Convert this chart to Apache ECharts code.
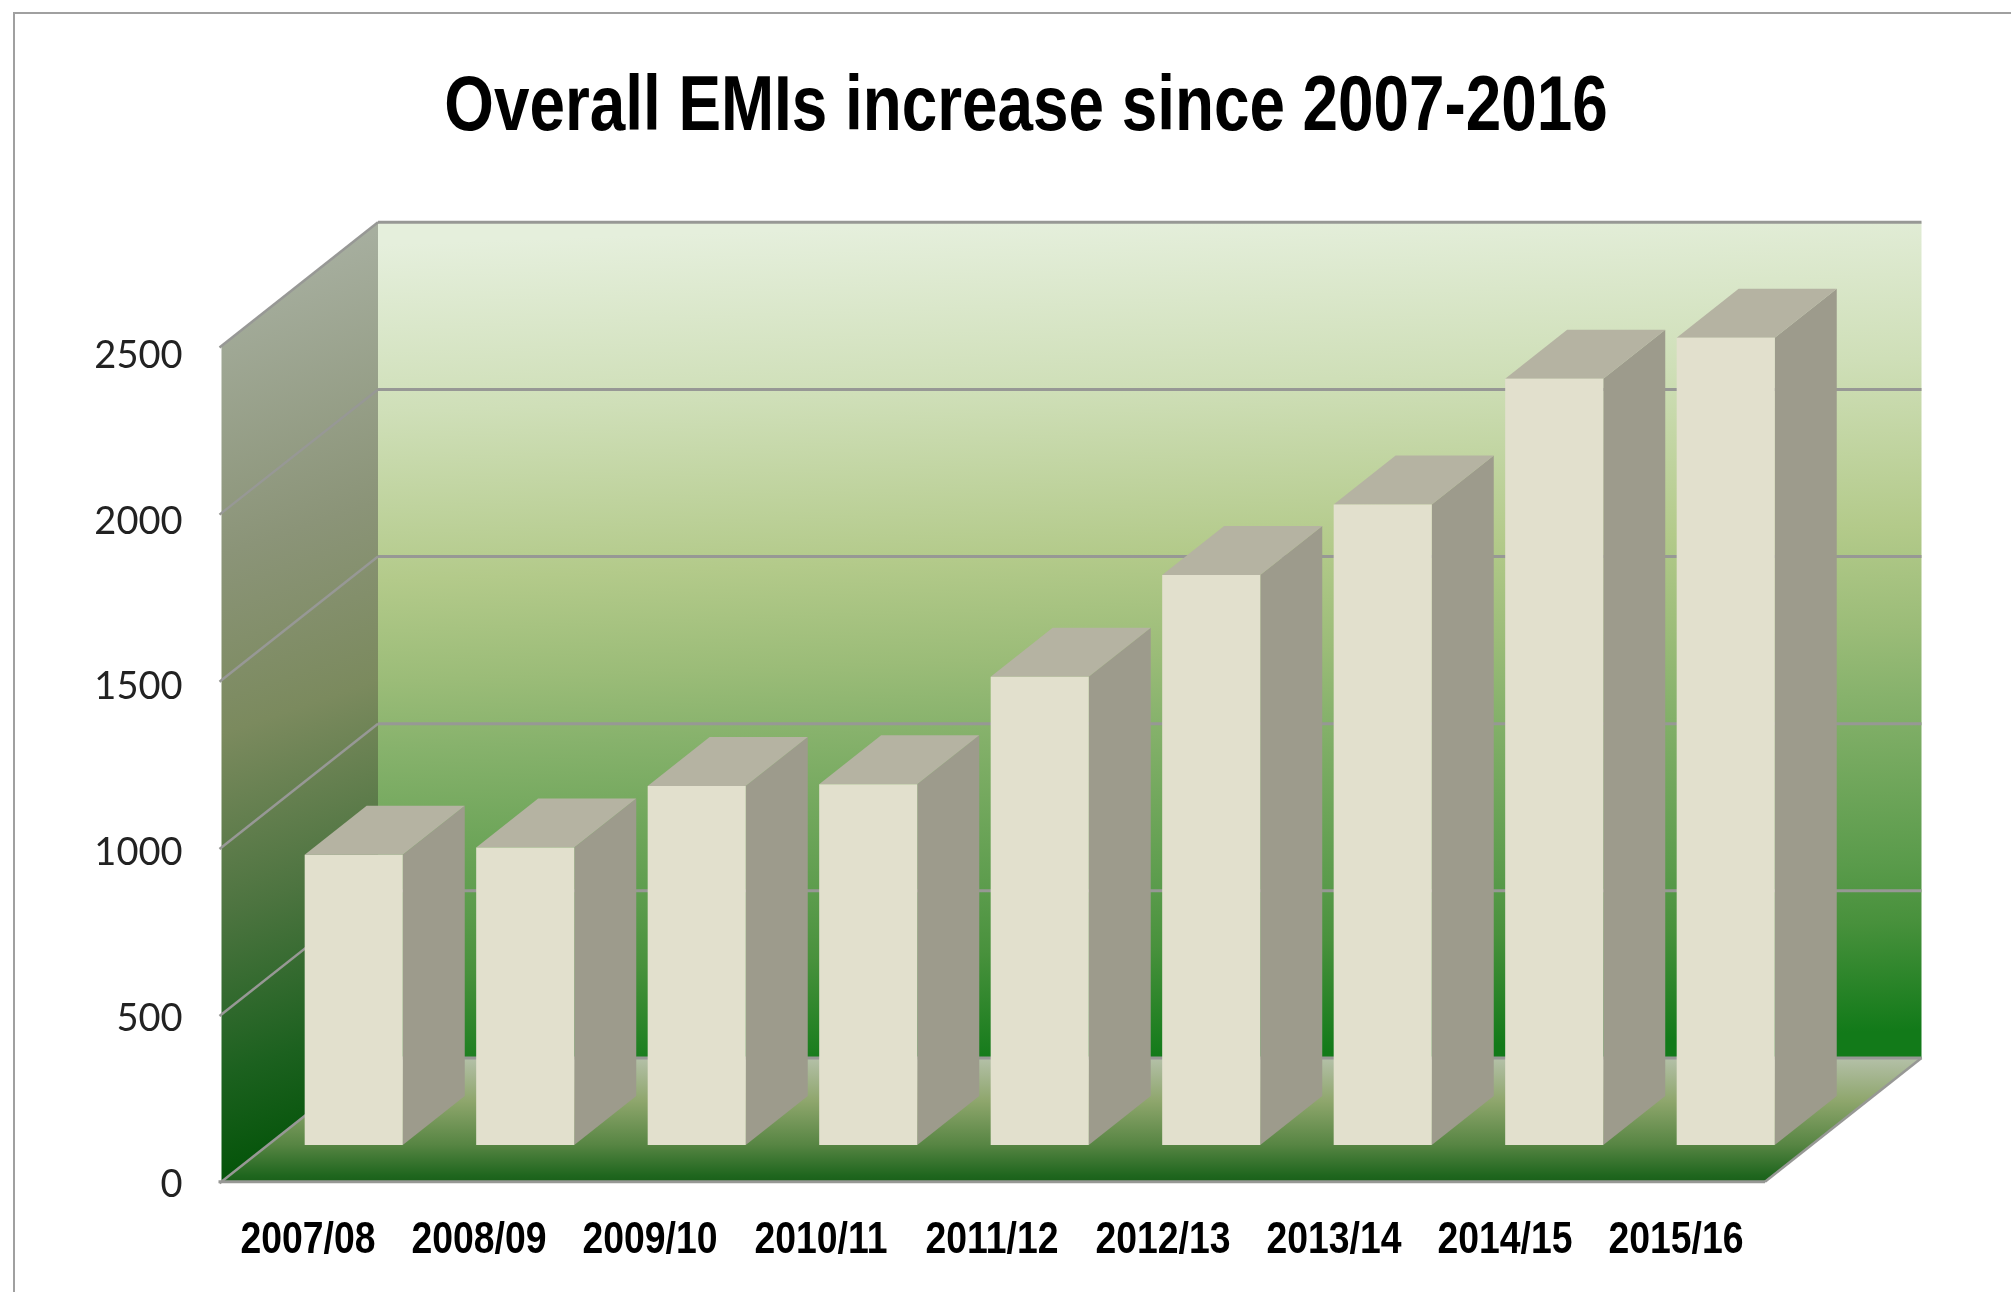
<!DOCTYPE html>
<html>
<head>
<meta charset="utf-8">
<style>html,body{margin:0;padding:0;background:#fff}#c{width:2011px;height:1292px}</style>
<script src="https://cdn.jsdelivr.net/npm/echarts@6/dist/echarts.min.js"></script>
</head>
<body>
<div id="c"></div>
<script>
const titleText = 'Overall EMIs increase since 2007-2016';
const categories = ['2007/08','2008/09','2009/10','2010/11','2011/12','2012/13','2013/14','2014/15','2015/16'];
const emis = [868, 890, 1074, 1079, 1401, 1705, 1916, 2292, 2415];
const yTicks = [0, 500, 1000, 1500, 2000, 2500];

const DEPTH_X = 156.5, DEPTH_Y = 123.7;
const BAR_NEAR = 0.297, BAR_FAR = 0.693;
const BAR_WIDTH = 0.572;
const GRID_LINE = '#979895';
const BOLD_FONT = '"Liberation Sans",Arial,sans-serif';

const chart = echarts.init(document.getElementById('c'), null, {renderer: 'canvas'});
const grad = (x, y, x2, y2, stops) => new echarts.graphic.LinearGradient(
  x, y, x2, y2, stops.map(s => ({offset: s[0], color: s[1]})), true);

function renderWalls(params, api) {
  const cs = params.coordSys;
  const L = cs.x, R = cs.x + cs.width, T = cs.y, B = cs.y + cs.height;
  const back = [
    [0, '#e5efdc'], [0.2, '#cfdfb8'], [0.4, '#b3ca8a'], [0.52, '#9bbc78'],
    [0.6, '#87b26c'], [0.8, '#5a9b4b'], [0.87, '#48913c'], [1, '#127a19']
  ];
  const cx = (L + R + DEPTH_X) / 2;
  return {type: 'group', children: [
    {type: 'polygon', shape: {points: [[L + DEPTH_X, T - DEPTH_Y], [R + DEPTH_X, T - DEPTH_Y], [R + DEPTH_X, B - DEPTH_Y], [L + DEPTH_X, B - DEPTH_Y]]},
      style: {fill: grad(cx - 20, T - DEPTH_Y - 2, cx + 10, B - DEPTH_Y + 2, back)}},
    {type: 'polygon', shape: {points: [[L, T], [L + DEPTH_X, T - DEPTH_Y], [L + DEPTH_X, B - DEPTH_Y], [L, B]]},
      style: {fill: grad(L - 60, T - 40, L + DEPTH_X + 60, B - DEPTH_Y + 50, [
        [0, '#a6ae9e'], [0.3, '#8b9478'], [0.5, '#7b8a5e'], [0.7, '#4d7440'], [0.88, '#1c611f'], [1, '#045409']
      ])}},
    {type: 'polygon', shape: {points: [[L, B], [R, B], [R + DEPTH_X, B - DEPTH_Y], [L + DEPTH_X, B - DEPTH_Y]]},
      style: {fill: grad(0, B - DEPTH_Y, 0, B, [
        [0, '#b4c0a8'], [0.35, '#8ea66c'], [0.7, '#578543'], [0.95, '#1f661e'], [1, '#1a601a']
      ])}}
  ]};
}

function renderGridline(params, api) {
  const cs = params.coordSys;
  const L = cs.x, R = cs.x + cs.width;
  const y = api.coord([0, api.value(1)])[1];
  const line = (x1, y1, x2, y2, w) => ({type: 'line', shape: {x1, y1, x2, y2},
    style: {stroke: GRID_LINE, lineWidth: w, fill: null}});
  return {type: 'group', children: [
    line(L - 2, y + 1.5, L + DEPTH_X, y - DEPTH_Y, 2.5),
    line(L + DEPTH_X, y - DEPTH_Y, R + DEPTH_X, y - DEPTH_Y, 3)
  ]};
}

function renderFloorEdge(params, api) {
  const cs = params.coordSys;
  const L = cs.x, R = cs.x + cs.width, B = cs.y + cs.height;
  return {type: 'group', children: [
    {type: 'line', shape: {x1: L - 3, y1: B, x2: R, y2: B}, style: {stroke: GRID_LINE, lineWidth: 3, fill: null}},
    {type: 'line', shape: {x1: R, y1: B, x2: R + DEPTH_X, y2: B - DEPTH_Y}, style: {stroke: GRID_LINE, lineWidth: 2.5, fill: null}}
  ]};
}

function renderBar(params, api) {
  const x = api.coord([api.value(0), 0])[0];
  const y0 = api.coord([api.value(0), 0])[1];
  const y1 = api.coord([api.value(0), api.value(1)])[1];
  const w = api.size([1, 0])[0] * BAR_WIDTH;
  const nx = DEPTH_X * BAR_NEAR, ny = DEPTH_Y * BAR_NEAR;
  const fx = DEPTH_X * BAR_FAR, fy = DEPTH_Y * BAR_FAR;
  const a = x + nx - w / 2, b = x + nx + w / 2;
  const bt = y0 - ny, tt = y1 - ny;
  const c = x + fx + w / 2, d = x + fx - w / 2;
  const cb = y0 - fy, ct = y1 - fy;
  return {type: 'group', children: [
    {type: 'polygon', shape: {points: [[b, bt], [c, cb], [c, ct], [b, tt]]}, style: {fill: '#9d9b8c'}},
    {type: 'polygon', shape: {points: [[a, tt], [b, tt], [c, ct], [d, ct]]}, style: {fill: '#b5b3a2'}},
    {type: 'polygon', shape: {points: [[a, bt], [b, bt], [b, tt], [a, tt]]}, style: {fill: '#e2e0cd'}}
  ]};
}

function renderCategoryLabel(params, api) {
  const p = api.coord([api.value(0), 0]);
  return {type: 'text', x: p[0], y: p[1] + 56, scaleX: 0.83, silent: true,
    style: {text: categories[api.value(0)], textAlign: 'center', textVerticalAlign: 'middle',
      fontFamily: BOLD_FONT, fontWeight: 'bold', fontSize: 45, fill: '#000'}};
}

chart.setOption({
  animation: false,
  backgroundColor: '#fff',
  graphic: [
    {type: 'rect', x: 14, y: 13, shape: {x: 0, y: 0, width: 2200, height: 1500},
      style: {fill: 'none', stroke: '#a0a0a0', lineWidth: 2}, silent: true, z: -1},
    {type: 'text', x: 1026, y: 108, scaleX: 0.818, silent: true, z: 5,
      style: {text: titleText, textAlign: 'center', textVerticalAlign: 'middle',
        fontFamily: BOLD_FONT, fontWeight: 'bold', fontSize: 78, fill: '#000'}}
  ],
  grid: [
    {left: 221.5, top: 346, width: 1543.5, height: 835.7},
    {left: 222.5, top: 355.5, width: 1539, height: 829.3}
  ],
  xAxis: [
    {type: 'category', gridIndex: 0, data: categories, axisLine: {show: false}, axisTick: {show: false}, axisLabel: {show: false}, splitLine: {show: false}},
    {type: 'category', gridIndex: 1, data: categories, axisLine: {show: false}, axisTick: {show: false}, axisLabel: {show: false}, splitLine: {show: false}}
  ],
  yAxis: [
    {type: 'value', gridIndex: 0, min: 0, max: 2500, interval: 500, axisLine: {show: false}, axisTick: {show: false}, axisLabel: {show: false}, splitLine: {show: false}},
    {type: 'value', gridIndex: 1, min: 0, max: 2500, interval: 500, axisLine: {show: false}, axisTick: {show: false}, splitLine: {show: false},
      axisLabel: {margin: 40, color: '#222', fontSize: 38, fontFamily: 'Lato,sans-serif', formatter: v => String(v)}}
  ],
  series: [
    {type: 'custom', name: 'walls', xAxisIndex: 0, yAxisIndex: 0, z: 1, silent: true, clip: false, renderItem: renderWalls, data: [[0, 0]]},
    {type: 'custom', name: 'gridlines', xAxisIndex: 0, yAxisIndex: 0, z: 2, silent: true, clip: false, renderItem: renderGridline, data: yTicks.map(v => [0, v])},
    {type: 'custom', name: 'floorEdge', xAxisIndex: 0, yAxisIndex: 0, z: 2, silent: true, clip: false, renderItem: renderFloorEdge, data: [[0, 0]]},
    {type: 'custom', name: 'EMIs', xAxisIndex: 0, yAxisIndex: 0, z: 3, silent: true, clip: false, renderItem: renderBar,
      encode: {x: 0, y: 1}, data: emis.map((v, i) => [i, v])},
    {type: 'custom', name: 'categoryLabels', xAxisIndex: 1, yAxisIndex: 1, z: 4, silent: true, clip: false, renderItem: renderCategoryLabel,
      data: categories.map((c, i) => [i, 0])}
  ]
});
</script>
</body>
</html>
